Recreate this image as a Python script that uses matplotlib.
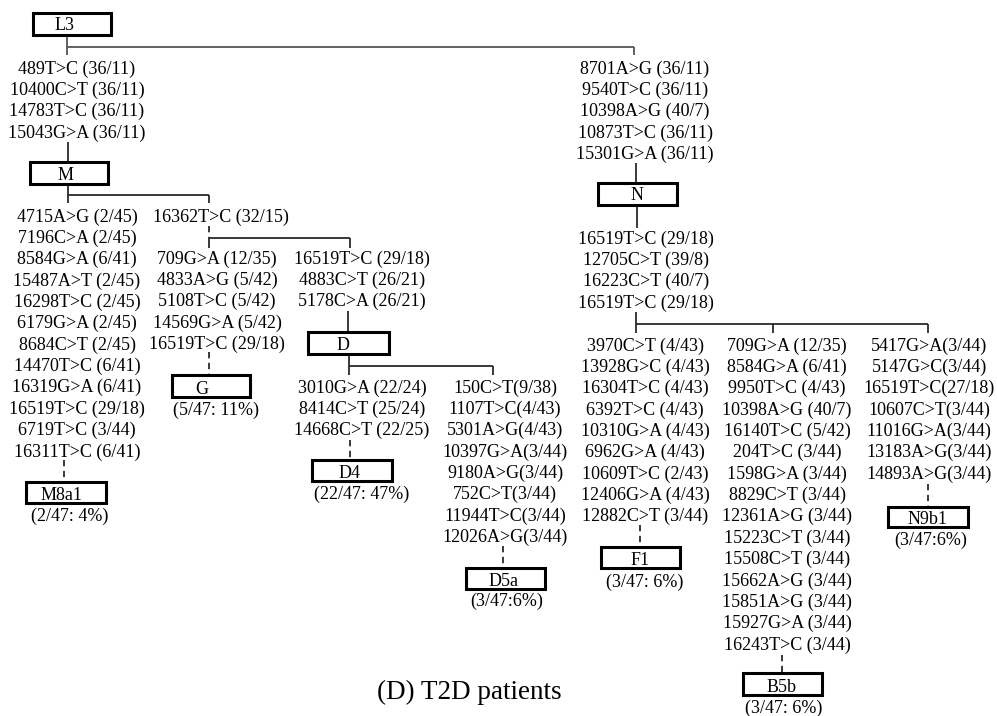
import matplotlib
matplotlib.use("Agg")
import matplotlib.pyplot as plt
from matplotlib.patches import Rectangle

# ---------------- data ----------------
L3_to_M = ["489T>C (36/11)", "10400C>T (36/11)", "14783T>C (36/11)", "15043G>A (36/11)"]
L3_to_N = ["8701A>G (36/11)", "9540T>C (36/11)", "10398A>G (40/7)",
           "10873T>C (36/11)", "15301G>A (36/11)"]
M_to_M8a1 = ["4715A>G (2/45)", "7196C>A (2/45)", "8584G>A (6/41)", "15487A>T (2/45)",
             "16298T>C (2/45)", "6179G>A (2/45)", "8684C>T (2/45)", "14470T>C (6/41)",
             "16319G>A (6/41)", "16519T>C (29/18)", "6719T>C (3/44)", "16311T>C (6/41)"]
M_to_GD = ["16362T>C (32/15)"]
GD_to_G = ["709G>A (12/35)", "4833A>G (5/42)", "5108T>C (5/42)", "14569G>A (5/42)",
           "16519T>C (29/18)"]
GD_to_D = ["16519T>C (29/18)", "4883C>T (26/21)", "5178C>A (26/21)"]
D_to_D4 = ["3010G>A (22/24)", "8414C>T (25/24)", "14668C>T (22/25)"]
D_to_D5a = ["150C>T(9/38)", "1107T>C(4/43)", "5301A>G(4/43)", "10397G>A(3/44)",
            "9180A>G(3/44)", "752C>T(3/44)", "11944T>C(3/44)", "12026A>G(3/44)"]
N_common = ["16519T>C (29/18)", "12705C>T (39/8)", "16223C>T (40/7)", "16519T>C (29/18)"]
N_to_F1 = ["3970C>T (4/43)", "13928G>C (4/43)", "16304T>C (4/43)", "6392T>C (4/43)",
           "10310G>A (4/43)", "6962G>A (4/43)", "10609T>C (2/43)", "12406G>A (4/43)",
           "12882C>T (3/44)"]
N_to_B5b = ["709G>A (12/35)", "8584G>A (6/41)", "9950T>C (4/43)", "10398A>G (40/7)",
            "16140T>C (5/42)", "204T>C (3/44)", "1598G>A (3/44)", "8829C>T (3/44)",
            "12361A>G (3/44)", "15223C>T (3/44)", "15508C>T (3/44)", "15662A>G (3/44)",
            "15851A>G (3/44)", "15927G>A (3/44)", "16243T>C (3/44)"]
N_to_N9b1 = ["5417G>A(3/44)", "5147G>C(3/44)", "16519T>C(27/18)", "10607C>T(3/44)",
             "11016G>A(3/44)", "13183A>G(3/44)", "14893A>G(3/44)"]
haplogroups = ["L3", "M", "N", "D", "G", "M8a1", "D4", "D5a", "F1", "B5b", "N9b1"]
freq_labels = {"M8a1": "(2/47: 4%)", "G": "(5/47: 11%)", "D4": "(22/47: 47%)",
               "D5a": "(3/47:6%)", "F1": "(3/47: 6%)", "B5b": "(3/47: 6%)",
               "N9b1": "(3/47:6%)"}
title = "(D) T2D patients"

# ---------------- layout (pixels) ----------------
S = 21.35
FS = 13.0
FONT = "Liberation Serif"
LC = "#2a2a2a"
fig = plt.figure(figsize=(9.97, 7.16), dpi=100)
ax = fig.add_axes([0, 0, 1, 1])
ax.set_xlim(0, 997)
ax.set_ylim(716, 0)
ax.axis("off")

def column(x, y0, lines):
    for i, t in enumerate(lines):
        ax.text(x, y0 + i * S, t, ha="center", va="center", fontsize=FS,
                family=FONT, color="black")

def box(x0, x1, y0, y1, label, lx=None, dy=2):
    ax.add_patch(Rectangle((x0, y0), x1 - x0, y1 - y0, fill=False,
                           lw=2.2, ec="black", zorder=3))
    ax.text((x0 + x1) / 2 if lx is None else lx, (y0 + y1) / 2 + dy, label,
            ha="center", va="center", fontsize=FS, family=FONT)

def seg(xs, ys, dashed=False, color=LC):
    ax.plot(xs, ys, color=color, lw=1.3,
            linestyle=(0, (3.5, 2.5)) if dashed else "-", solid_capstyle="butt")

def freq(x, y, key):
    ax.text(x, y, freq_labels[key], ha="center", va="center", fontsize=FS, family=FONT)

# L3
box(33, 111, 13, 35, haplogroups[0], lx=65, dy=1)
seg([67, 67], [35, 55], color="#555555")
seg([67, 634], [47, 47], color="#555555")
seg([634, 634], [47, 55], color="#555555")
column(77, 69, L3_to_M)
seg([68, 68], [142, 162])
box(30, 108, 162, 184, haplogroups[1], lx=66)

# M branches
seg([68, 68], [184, 203])
seg([68, 209], [195, 195])
seg([209, 209], [195, 203])
column(77, 217, M_to_M8a1)
seg([64, 64], [460, 482], dashed=True)
box(26, 106, 482, 503, haplogroups[5], lx=62, dy=3)
freq(70, 516, "M8a1")

column(221, 217, M_to_GD)
seg([209, 209], [226, 238], dashed=True)
seg([209, 350], [238, 238])
seg([209, 209], [238, 248])
seg([350, 350], [238, 248])
column(217, 259, GD_to_G)
seg([209, 209], [352, 375], dashed=True)
box(172, 250, 375, 397, haplogroups[4], lx=202, dy=3)
freq(216, 410, "G")

column(362, 259, GD_to_D)
seg([348, 348], [311, 332])
box(308, 389, 332, 354, haplogroups[3], lx=343)
seg([349, 349], [354, 375])
seg([349, 493], [366, 366])
seg([493, 493], [366, 375])
column(362, 388, D_to_D4)
seg([350, 350], [440, 460], dashed=True)
box(312, 392, 460, 481, haplogroups[6], lx=350, dy=3)
freq(362, 494, "D4")
column(505, 388, D_to_D5a)
seg([503, 503], [546, 568], dashed=True)
box(466, 545, 568, 589, haplogroups[7], lx=504, dy=3)
freq(507, 601, "D5a")

# N
column(645, 69, L3_to_N)
seg([636, 636], [163, 183])
box(598, 677, 183, 205, haplogroups[2], lx=637)
seg([637, 637], [205, 228])
column(646, 239, N_common)
seg([636, 636], [312, 333])
seg([636, 928], [324, 324])
seg([773, 773], [324, 333])
seg([928, 928], [324, 333])
column(645, 346, N_to_F1)
seg([640, 640], [525, 547], dashed=True)
box(601, 680, 547, 568, haplogroups[8], lx=640, dy=3)
freq(645, 582, "F1")
column(787, 346, N_to_B5b)
seg([782, 782], [655, 673], dashed=True)
box(743, 822, 673, 695, haplogroups[9], lx=782, dy=3)
freq(784, 708, "B5b")
column(929, 346, N_to_N9b1)
seg([928, 928], [484, 507], dashed=True)
box(888, 968, 507, 527, haplogroups[10], lx=928, dy=3)
freq(931, 540, "N9b1")

ax.text(469, 692, title, ha="center", va="center", fontsize=19.5, family=FONT)

fig.savefig("out.png", dpi=100)
